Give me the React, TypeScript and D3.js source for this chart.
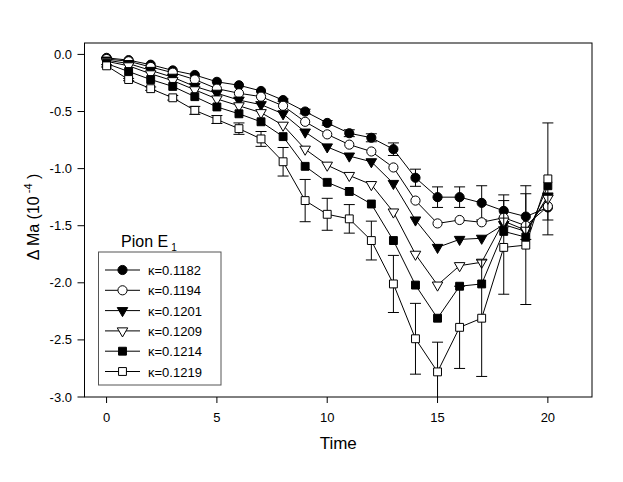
import React from "react";
import * as d3 from "d3";

const times = [0, 1, 2, 3, 4, 5, 6, 7, 8, 9, 10, 11, 12, 13, 14, 15, 16, 17, 18, 19, 20];

const kappaLabels = ["0.1182", "0.1194", "0.1201", "0.1209", "0.1214", "0.1219"];

const k1182 = [-0.03, -0.05, -0.09, -0.14, -0.18, -0.24, -0.27, -0.32, -0.40, -0.50, -0.60, -0.69, -0.73, -0.83, -1.08, -1.25, -1.25, -1.30, -1.37, -1.42, -1.34];
const k1194 = [-0.04, -0.06, -0.11, -0.16, -0.22, -0.30, -0.34, -0.37, -0.45, -0.59, -0.70, -0.79, -0.85, -0.99, -1.28, -1.48, -1.45, -1.47, -1.43, -1.50, -1.33];
const k1201 = [-0.05, -0.08, -0.14, -0.20, -0.28, -0.34, -0.40, -0.44, -0.52, -0.68, -0.81, -0.89, -0.94, -1.13, -1.45, -1.69, -1.62, -1.61, -1.49, -1.55, -1.24];
const k1209 = [-0.06, -0.10, -0.17, -0.23, -0.31, -0.39, -0.45, -0.51, -0.62, -0.83, -0.97, -1.06, -1.14, -1.38, -1.75, -2.02, -1.85, -1.82, -1.46, -1.54, -1.26];
const k1214 = [-0.08, -0.15, -0.22, -0.28, -0.37, -0.46, -0.52, -0.59, -0.72, -0.98, -1.12, -1.20, -1.31, -1.63, -2.02, -2.31, -2.03, -2.01, -1.55, -1.60, -1.15];
const k1219 = [-0.10, -0.22, -0.30, -0.38, -0.49, -0.57, -0.65, -0.74, -0.94, -1.28, -1.40, -1.44, -1.63, -2.01, -2.49, -2.78, -2.39, -2.31, -1.69, -1.67, -1.09];

const err1182 = [0, 0, 0, 0, 0, 0, 0, 0, 0.01, 0.02, 0.02, 0.03, 0.035, 0.055, 0.075, 0.09, 0.09, 0.15, 0.14, 0.2, 0.11];
const err1219 = [0.01, 0.01, 0.015, 0.02, 0.035, 0.035, 0.05, 0.065, 0.125, 0.185, 0.14, 0.125, 0.17, 0.25, 0.31, 0.26, 0.36, 0.51, 0.41, 0.52, 0.49];

const xTicks = [0, 5, 10, 15, 20];
const yTicks = [0, -0.5, -1.0, -1.5, -2.0, -2.5, -3.0];

type Marker = { kind: "circle" | "square" | "triangle"; filled: boolean };

const seriesValues = [k1182, k1194, k1201, k1209, k1214, k1219];
const seriesErrors: (number[] | null)[] = [err1182, null, null, null, null, err1219];
const markers: Marker[] = [
  { kind: "circle", filled: true },
  { kind: "circle", filled: false },
  { kind: "triangle", filled: true },
  { kind: "triangle", filled: false },
  { kind: "square", filled: true },
  { kind: "square", filled: false },
];

const W = 623;
const H = 482;
const left = 84.5;
const right = 592;
const top = 43;
const bottom = 397;
const font = "'Liberation Sans', Arial, sans-serif";

function symbolPath(m: Marker) {
  if (m.kind === "circle") return d3.symbol(d3.symbolCircle, 66)()!;
  if (m.kind === "square") return d3.symbol(d3.symbolSquare, 62)()!;
  return d3.symbol(d3.symbolTriangle, 48)()!;
}

function MarkerShape({ m, x, y }: { m: Marker; x: number; y: number }) {
  const rot = m.kind === "triangle" ? " rotate(180)" : "";
  return (
    <path
      d={symbolPath(m)}
      transform={`translate(${x},${y})${rot}`}
      fill={m.filled ? "#000" : "#fff"}
      stroke="#000"
      strokeWidth={1}
    />
  );
}

export default function App() {
  const x = d3.scaleLinear().domain([-1, 22]).range([left, right]);
  const y = d3.scaleLinear().domain([-3, 0.1]).range([bottom, top]);
  const line = d3
    .line<number>()
    .x((_, i) => x(times[i]))
    .y((d) => y(d));

  const legendRowY = (i: number) => 270 + i * 20.3;

  return (
    <div style={{ position: "fixed", left: 0, top: 0 }}>
      <svg width={W} height={H} style={{ display: "block", background: "#fff" }}>
        <defs>
          <clipPath id="plotClip">
            <rect x={left} y={top} width={right - left} height={bottom - top} />
          </clipPath>
        </defs>

        {/* series */}
        <g clipPath="url(#plotClip)">
          {seriesValues.map((vals, si) => (
            <g key={si}>
              <path d={line(vals)!} fill="none" stroke="#000" strokeWidth={1} />
              {seriesErrors[si] &&
                vals.map((v, i) => {
                  const e = seriesErrors[si]![i];
                  if (!e) return null;
                  const cx = x(times[i]);
                  const y1 = y(v + e);
                  const y2 = y(v - e);
                  return (
                    <g key={i} stroke="#000" strokeWidth={1}>
                      <line x1={cx} x2={cx} y1={y1} y2={y2} />
                      <line x1={cx - 5.5} x2={cx + 5.5} y1={y1} y2={y1} />
                      <line x1={cx - 5.5} x2={cx + 5.5} y1={y2} y2={y2} />
                    </g>
                  );
                })}
              {vals.map((v, i) => (
                <MarkerShape key={i} m={markers[si]} x={x(times[i])} y={y(v)} />
              ))}
            </g>
          ))}
        </g>

        {/* frame */}
        <rect x={left} y={top} width={right - left} height={bottom - top} fill="none" stroke="#000" strokeWidth={1} />

        {/* y ticks */}
        {yTicks.map((t) => (
          <g key={t}>
            <line x1={left - 7} x2={left} y1={y(t)} y2={y(t)} stroke="#000" />
            <text x={72} y={y(t) + 4.5} textAnchor="end" fontFamily={font} fontSize={13}>
              {t.toFixed(1)}
            </text>
          </g>
        ))}

        {/* x ticks */}
        {xTicks.map((t) => (
          <g key={t}>
            <line x1={x(t)} x2={x(t)} y1={bottom} y2={bottom + 6} stroke="#000" />
            <text x={x(t)} y={422} textAnchor="middle" fontFamily={font} fontSize={13}>
              {t}
            </text>
          </g>
        ))}

        {/* axis titles */}
        <text x={(left + right) / 2} y={449} textAnchor="middle" fontFamily={font} fontSize={17}>
          Time
        </text>
        <text
          transform={`translate(39,217) rotate(-90)`}
          textAnchor="middle"
          fontFamily={font}
          fontSize={16}
        >
          Δ Ma (10
          <tspan fontSize={11} dy={-7}> -4</tspan>
          <tspan dy={7}> )</tspan>
        </text>

        {/* legend */}
        <text x={121} y={247} fontFamily={font} fontSize={16}>
          Pion E
          <tspan fontSize={10} dx={3} dy={4}>1</tspan>
        </text>
        <rect x={98.5} y={252} width={122.5} height={133} fill="#fff" stroke="#555" strokeWidth={1} />
        {kappaLabels.map((k, i) => (
          <g key={k}>
            <line x1={105} x2={140} y1={legendRowY(i)} y2={legendRowY(i)} stroke="#000" />
            <MarkerShape m={markers[i]} x={122.5} y={legendRowY(i)} />
            <text x={148} y={legendRowY(i) + 5} fontFamily={font} fontSize={13}>
              κ=0.{k.slice(2)}
            </text>
          </g>
        ))}
      </svg>
    </div>
  );
}
